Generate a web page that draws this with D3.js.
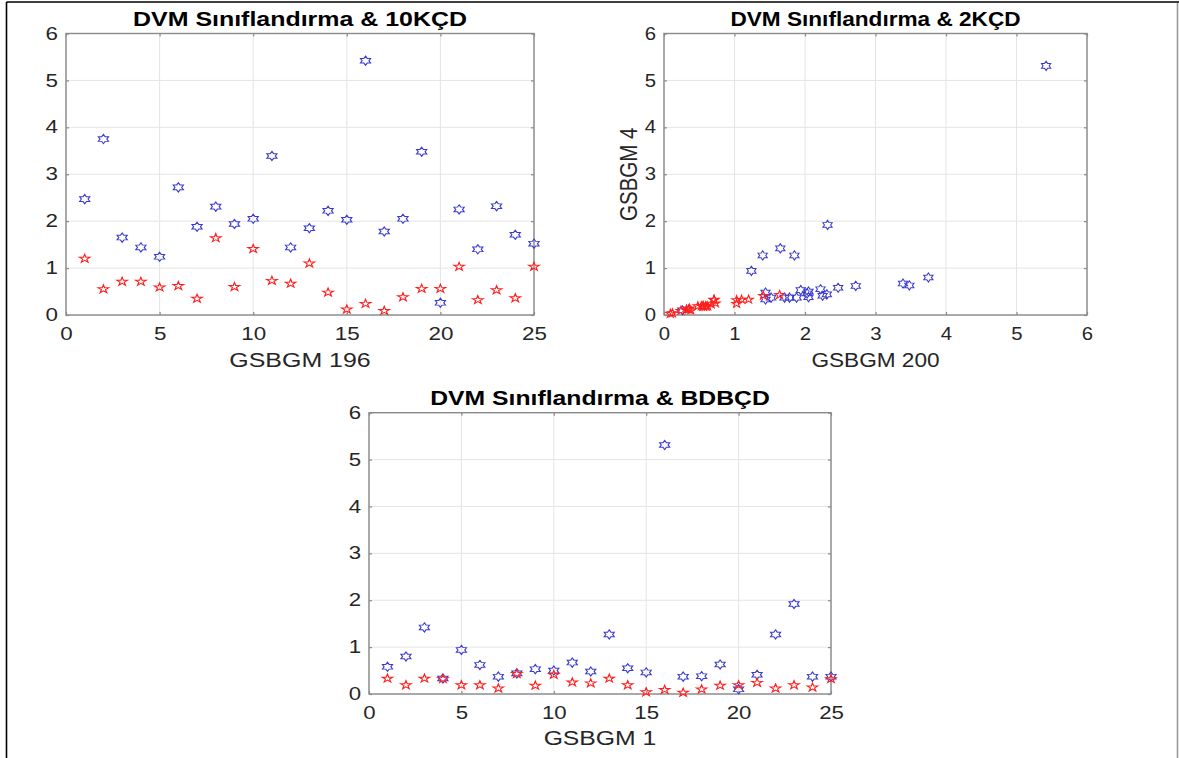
<!DOCTYPE html>
<html>
<head>
<meta charset="utf-8">
<script src="https://cdn.jsdelivr.net/npm/d3@7"></script>
<style>
  html, body { margin: 0; padding: 0; background: #fff; }
  svg { display: block; }
</style>
</head>
<body>
<script>
// Station index 1..25
const stations = d3.range(1, 26);

// DVM classification & 10KÇD (x: station, y: GSBGM 196)
const kcd10Blue = [2.47, 3.75, 1.65, 1.44, 1.24, 2.72, 1.88, 2.31, 1.94, 2.05,
                   3.39, 1.44, 1.85, 2.22, 2.03, 5.42, 1.78, 2.05, 3.48, 0.26,
                   2.25, 1.40, 2.32, 1.71, 1.52];
const kcd10Red  = [1.20, 0.55, 0.71, 0.71, 0.59, 0.62, 0.35, 1.64, 0.60, 1.41,
                   0.73, 0.67, 1.10, 0.48, 0.12, 0.24, 0.09, 0.38, 0.56, 0.56,
                   1.03, 0.32, 0.53, 0.36, 1.03];

// DVM classification & BDBÇD (x: station, y: GSBGM 1)
const bdbcdBlue = [0.58, 0.80, 1.42, 0.33, 0.94, 0.62, 0.37, 0.44, 0.53, 0.50,
                   0.67, 0.48, 1.27, 0.55, 0.46, 5.31, 0.37, 0.38, 0.63, 0.10,
                   0.41, 1.27, 1.92, 0.37, 0.37];
const bdbcdRed  = [0.33, 0.19, 0.33, 0.32, 0.19, 0.19, 0.12, 0.43, 0.18, 0.41,
                   0.25, 0.23, 0.33, 0.19, 0.04, 0.09, 0.03, 0.10, 0.18, 0.19,
                   0.24, 0.12, 0.19, 0.14, 0.32];

// Tick values
const stationTicks = [0, 5, 10, 15, 20, 25];
const pairTicks = [0, 1, 2, 3, 4, 5, 6];
const valueTicks = [0, 1, 2, 3, 4, 5, 6];

const W = 1179, H = 758;
const svg = d3.select("body").append("svg")
  .attr("width", W).attr("height", H)
  .attr("viewBox", `0 0 ${W} ${H}`);

svg.append("rect").attr("width", W).attr("height", H).attr("fill", "#fff");

// outer frame
svg.append("line").attr("x1", 6.5).attr("x2", W).attr("y1", 2).attr("y2", 2)
  .attr("stroke", "#000").attr("stroke-width", 1.6);
svg.append("line").attr("x1", 6.5).attr("x2", 6.5).attr("y1", 2).attr("y2", H)
  .attr("stroke", "#000").attr("stroke-width", 1.6);
svg.append("line").attr("x1", 1177.5).attr("x2", 1177.5).attr("y1", 3).attr("y2", H)
  .attr("stroke", "#9a9a9a").attr("stroke-width", 1.6);

const FONT = "'Liberation Sans', Arial, Helvetica, sans-serif";

// six-pointed star (hexagram), point up; size = outer radius squared
const hexagram = {
  draw(ctx, size) {
    const r = Math.sqrt(size), ri = r / Math.sqrt(3);
    for (let k = 0; k < 12; k++) {
      const a = -Math.PI / 2 + k * Math.PI / 6;
      const rr = k % 2 === 0 ? r : ri;
      const x = rr * Math.cos(a), y = rr * Math.sin(a);
      if (k === 0) ctx.moveTo(x, y); else ctx.lineTo(x, y);
    }
    ctx.closePath();
  }
};
// five-pointed star (pentagram), point up; size = outer radius squared
const pentagram = {
  draw(ctx, size) {
    const r = Math.sqrt(size), ri = r * 0.382;
    for (let k = 0; k < 10; k++) {
      const a = -Math.PI / 2 + k * Math.PI / 5;
      const rr = k % 2 === 0 ? r : ri;
      const x = rr * Math.cos(a), y = rr * Math.sin(a);
      if (k === 0) ctx.moveTo(x, y); else ctx.lineTo(x, y);
    }
    ctx.closePath();
  }
};

function stretchText(sel, sx) {
  sel.each(function () {
    const t = d3.select(this);
    const x = +t.attr("x") || 0;
    t.attr("x", x / sx).attr("transform", `scale(${sx},1)`);
  });
}

function panel(cfg) {
  const g = svg.append("g");
  const x = d3.scaleLinear().domain(cfg.xDomain).range([cfg.left, cfg.right]);
  const y = d3.scaleLinear().domain([0, 6]).range([cfg.bottom, cfg.top]);
  const sx = cfg.sx;

  // grid
  g.append("g").selectAll("line").data(cfg.xTicks).join("line")
    .attr("x1", d => x(d)).attr("x2", d => x(d))
    .attr("y1", cfg.top).attr("y2", cfg.bottom)
    .attr("stroke", "#e4e4e4").attr("stroke-width", 1);
  g.append("g").selectAll("line").data(valueTicks).join("line")
    .attr("x1", cfg.left).attr("x2", cfg.right)
    .attr("y1", d => y(d)).attr("y2", d => y(d))
    .attr("stroke", "#e4e4e4").attr("stroke-width", 1);

  // axes with inward ticks on all four sides
  const styleAxis = a => {
    a.select(".domain").remove();
    a.selectAll(".tick line").attr("stroke", "#8a8a8a").attr("stroke-width", 1.2);
    a.selectAll("text").attr("fill", "#262626")
      .style("font-family", FONT).style("font-size", "17.5px");
  };
  const xb = g.append("g").attr("transform", `translate(0,${cfg.bottom})`)
    .call(d3.axisBottom(x).tickValues(cfg.xTicks).tickSizeInner(-3).tickSizeOuter(0).tickPadding(13).tickFormat(d3.format("d")));
  styleAxis(xb); stretchText(xb.selectAll("text"), sx);
  const xt = g.append("g").attr("transform", `translate(0,${cfg.top})`)
    .call(d3.axisTop(x).tickValues(cfg.xTicks).tickSizeInner(-3).tickSizeOuter(0).tickFormat(""));
  styleAxis(xt);
  const yl = g.append("g").attr("transform", `translate(${cfg.left},0)`)
    .call(d3.axisLeft(y).tickValues(valueTicks).tickSizeInner(-3).tickSizeOuter(0).tickPadding(8).tickFormat(d3.format("d")));
  styleAxis(yl); stretchText(yl.selectAll("text"), sx);
  const yr = g.append("g").attr("transform", `translate(${cfg.right},0)`)
    .call(d3.axisRight(y).tickValues(valueTicks).tickSizeInner(-3).tickSizeOuter(0).tickFormat(""));
  styleAxis(yr);

  // box
  g.append("rect")
    .attr("x", cfg.left).attr("y", cfg.top)
    .attr("width", cfg.right - cfg.left).attr("height", cfg.bottom - cfg.top)
    .attr("fill", "none").attr("stroke", "#8a8a8a").attr("stroke-width", 1.4);

  // markers
  const hexPath = d3.symbol().type(hexagram).size(4.6 * 4.6)();
  const starPath = d3.symbol().type(pentagram).size(4.4 * 4.4)();
  g.append("g").selectAll("path").data(cfg.blue).join("path")
    .attr("d", hexPath)
    .attr("transform", d => `translate(${x(d[0])},${y(d[1])}) scale(${sx},1)`)
    .attr("fill", "none").attr("stroke", "#3a3ad0").attr("stroke-width", 0.95);
  g.append("g").selectAll("path").data(cfg.red).join("path")
    .attr("d", starPath)
    .attr("transform", d => `translate(${x(d[0])},${y(d[1])}) scale(${sx},1)`)
    .attr("fill", "none").attr("stroke", "#ff1f1f").attr("stroke-width", 0.95);

  // title
  g.append("text")
    .attr("transform", `translate(${(cfg.left + cfg.right) / 2},${cfg.titleY}) scale(${sx},1)`)
    .attr("text-anchor", "middle")
    .style("font-family", FONT).style("font-size", "19.5px").style("font-weight", "bold")
    .attr("fill", "#000").text(cfg.title);

  // x label
  g.append("text")
    .attr("transform", `translate(${(cfg.left + cfg.right) / 2},${cfg.xLabelY}) scale(${sx},1)`)
    .attr("text-anchor", "middle")
    .style("font-family", FONT).style("font-size", "19.5px")
    .attr("fill", "#262626").text(cfg.xLabel);

  // y label
  if (cfg.yLabel) {
    g.append("text")
      .attr("transform", `translate(${cfg.yLabelX},${(cfg.top + cfg.bottom) / 2}) scale(${sx},1) rotate(-90)`)
      .attr("text-anchor", "middle")
      .style("font-family", FONT).style("font-size", "20.5px")
      .attr("fill", "#262626").text(cfg.yLabel);
  }
}

panel({
  left: 66, right: 534, top: 33.5, bottom: 315, sx: 1.28,
  xDomain: [0, 25], xTicks: stationTicks,
  title: "DVM Sınıflandırma & 10KÇD", titleY: 26,
  xLabel: "GSBGM 196", xLabelY: 367,
  blue: d3.zip(stations, kcd10Blue), red: d3.zip(stations, kcd10Red)
});

panel({
  left: 664, right: 1087, top: 33.5, bottom: 315, sx: 1.16,
  xDomain: [0, 6], xTicks: pairTicks,
  title: "DVM Sınıflandırma & 2KÇD", titleY: 26,
  xLabel: "GSBGM 200", xLabelY: 367,
  yLabel: "GSBGM 4", yLabelX: 637,
  blue: d3.zip(kcd10Blue, bdbcdBlue), red: d3.zip(kcd10Red, bdbcdRed)
});

panel({
  left: 369, right: 831, top: 412.7, bottom: 694, sx: 1.27,
  xDomain: [0, 25], xTicks: stationTicks,
  title: "DVM Sınıflandırma & BDBÇD", titleY: 405,
  xLabel: "GSBGM 1", xLabelY: 745,
  blue: d3.zip(stations, bdbcdBlue), red: d3.zip(stations, bdbcdRed)
});
</script>
</body>
</html>
